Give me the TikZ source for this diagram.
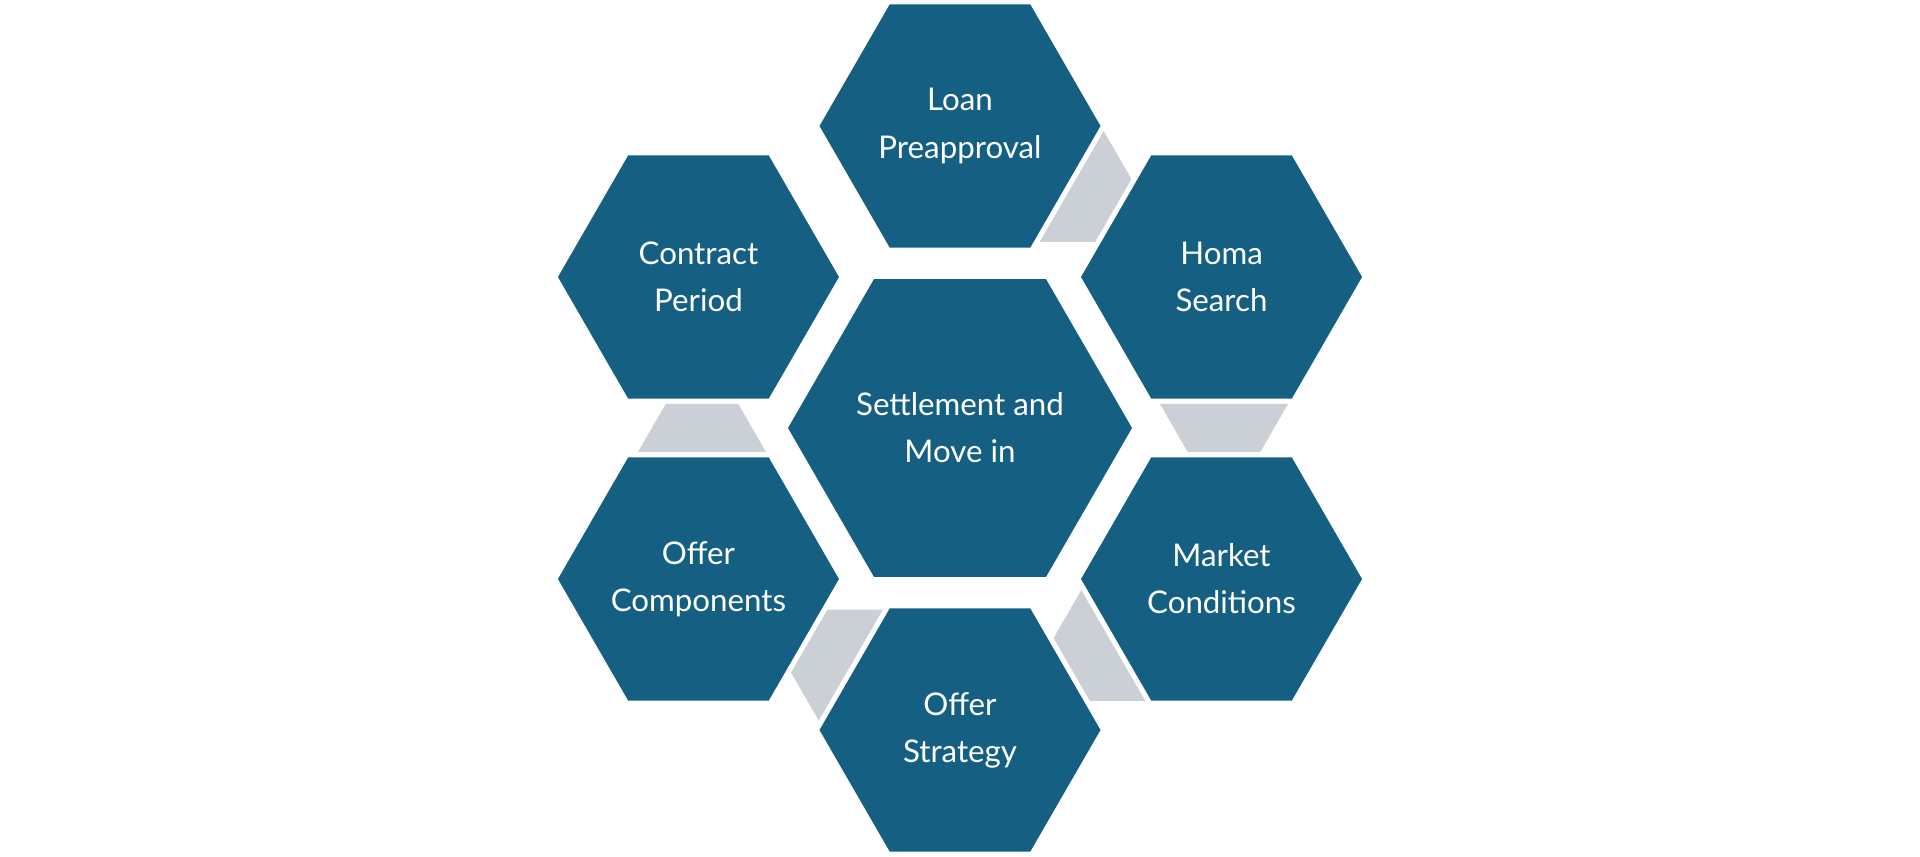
\documentclass[tikz,border=0pt]{standalone}
\usepackage{fontspec}
\setmainfont{Lato}
\usetikzlibrary{shapes.geometric}
\definecolor{hexblue}{HTML}{156082}
\definecolor{linkgrey}{HTML}{CBD0D6}

\begin{document}
\begin{tikzpicture}[x=0.1mm, y=0.1mm,
	hexa/.style={regular polygon, regular polygon sides=6, fill=hexblue, draw=none,
		inner sep=0pt, outer sep=0pt, minimum size=28.1mm,
		label={[hexlabel]center:{#1}}},
	hexlabel/.style={text=white, align=center, inner sep=0pt,
		font=\fontsize{8.9}{13.4}\selectfont},
	link/.style={fill=linkgrey}]
	% Fix the page to the size of the reference.
	\useasboundingbox (0,0) rectangle (1920,856);

	\begin{scope}[shift={(960,428)}]
	% The centre hexagon.
	\node[hexa={Settlement and\\Move in}, minimum size=34.4mm] (settle) at (0,0) {};

	% The ring of six, clockwise from the top.
	\pgfmathsetmacro\Ring{302};
	\node[hexa={Loan\\Preapproval}] (loan) at (90:\Ring) {};
	\node[hexa={Homa\\Search}] (homa) at (30:\Ring) {};
	\node[hexa={Market\\Conditions}] (market) at (-30:\Ring) {};
	\node[hexa={Offer\\Strategy}] (strategy) at (-90:\Ring) {};
	\node[hexa={Offer\\Components}] (components) at (-150:\Ring) {};
	\node[hexa={Contract\\Period}] (contract) at (150:\Ring) {};

	% Grey links in the gaps, drawn for the gap at 0 degrees and turned.
	\foreach \a/\d in {60/265, 0/264, -60/265, -120/260, 180/258}
		\fill[link, rotate=\a] (\d-64,24) -- (\d+64,24) -- (\d+36.3,-24) -- (\d-36.3,-24) -- cycle;
	\end{scope}
\end{tikzpicture}
\end{document}
